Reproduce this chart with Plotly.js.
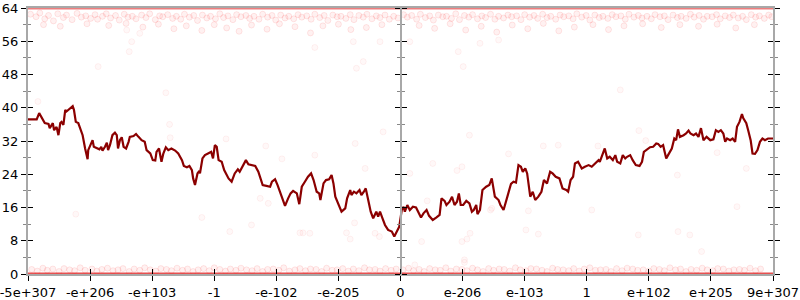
<!DOCTYPE html>
<html><head><meta charset="utf-8">
<script src="https://cdn.plot.ly/plotly-3.0.1.min.js"></script>
<style>html,body{margin:0;padding:0;background:#fff}#chart{width:800px;height:300px}</style>
</head><body><div id="chart"></div>
<script>
// tick positions (axis units) and labels
const tickPos = [0,1,2,3,4,5,6,7,8,9,10,11,12];
const tickLabels = ["-5e+307","-e+206","-e+103","-1","-e-102","-e-205","0","e-206","e-103","1","e+102","e+205","9e+307"];
const yTicks = [0,8,16,24,32,40,48,56,64];

// running line
const lineX = [0,0.14,0.18,0.22,0.27,0.33,0.35,0.40,0.42,0.46,0.49,0.52,0.54,0.57,0.60,0.62,0.68,0.72,0.74,0.77,0.81,0.84,0.88,0.92,0.96,0.97,1.01,1.04,1.06,1.11,1.15,1.18,1.20,1.24,1.27,1.29,1.32,1.36,1.40,1.43,1.45,1.48,1.51,1.54,1.58,1.62,1.64,1.70,1.74,1.78,1.83,1.88,1.91,1.97,2.01,2.05,2.07,2.11,2.15,2.18,2.22,2.26,2.31,2.37,2.42,2.48,2.51,2.56,2.60,2.64,2.66,2.69,2.73,2.76,2.77,2.81,2.85,2.90,2.95,2.98,3.01,3.04,3.07,3.12,3.16,3.23,3.28,3.33,3.38,3.41,3.46,3.51,3.55,3.60,3.66,3.71,3.74,3.78,3.84,3.90,3.93,3.98,4.02,4.06,4.14,4.19,4.23,4.27,4.33,4.37,4.41,4.46,4.51,4.56,4.60,4.65,4.69,4.71,4.76,4.80,4.85,4.89,4.92,4.95,5.00,5.05,5.11,5.14,5.19,5.21,5.25,5.29,5.34,5.37,5.41,5.44,5.48,5.52,5.56,5.61,5.64,5.67,5.71,5.75,5.80,5.86,5.90,5.94,5.98,6.02,6.05,6.07,6.11,6.15,6.20,6.25,6.29,6.33,6.37,6.42,6.46,6.52,6.58,6.63,6.66,6.71,6.74,6.79,6.83,6.87,6.91,6.94,6.97,7.01,7.06,7.11,7.15,7.18,7.22,7.24,7.28,7.32,7.38,7.43,7.47,7.49,7.52,7.58,7.61,7.66,7.70,7.74,7.78,7.82,7.86,7.90,7.94,7.97,8.01,8.04,8.09,8.13,8.17,8.22,8.27,8.31,8.36,8.41,8.45,8.50,8.56,8.61,8.67,8.70,8.74,8.78,8.81,8.86,8.92,8.97,9.03,9.08,9.13,9.19,9.21,9.26,9.29,9.33,9.37,9.42,9.46,9.49,9.54,9.58,9.62,9.65,9.70,9.74,9.79,9.85,9.89,9.92,9.97,10.02,10.07,10.12,10.15,10.19,10.23,10.28,10.31,10.37,10.41,10.44,10.47,10.50,10.56,10.60,10.64,10.67,10.72,10.76,10.80,10.84,10.88,10.93,10.99,11.04,11.08,11.12,11.16,11.20,11.23,11.26,11.31,11.35,11.39,11.42,11.46,11.50,11.52,11.57,11.60,11.64,11.67,11.71,11.75,11.79,11.83,11.87,11.92,12.00];
const lineY = [37.2,37.2,38.7,37.7,36.3,36.1,35.1,36.3,34.6,35.4,33.4,36.3,36.6,35.9,39.5,39.1,39.9,40.4,39.5,36.6,36.3,34.8,33.4,30.2,27.6,29.8,31.4,32.2,30.6,30.2,30.0,30.6,29.7,30.6,31.6,29.8,31.0,33.4,34.0,33.4,30.2,32.2,32.9,30.6,30.2,31.8,33.0,33.2,33.7,33.0,32.2,31.8,29.8,29.0,27.4,27.3,29.4,30.2,27.0,29.0,30.5,29.8,30.2,29.7,29.0,27.4,26.0,25.7,26.0,25.0,23.0,21.4,24.2,24.8,24.2,27.8,28.6,29.0,29.4,27.8,31.0,30.6,27.4,27.0,25.0,23.0,22.2,24.2,25.2,24.6,26.2,27.4,26.4,26.2,26.0,24.6,23.4,21.4,21.2,21.0,22.2,22.8,21.4,19.8,16.4,18.2,19.4,20.0,19.4,16.8,21.0,22.2,23.4,24.2,22.6,19.8,19.4,17.8,21.8,22.6,22.8,23.8,21.8,18.6,16.6,15.0,15.8,18.2,20.2,19.0,19.8,19.4,20.2,19.0,19.8,20.6,17.8,15.0,13.4,15.0,13.8,15.0,13.4,11.8,10.6,10.2,9.0,10.2,11.4,15.4,16.2,15.0,16.6,15.4,16.2,16.0,14.6,13.6,14.6,15.4,14.0,13.0,13.6,14.2,18.2,17.6,16.6,17.4,18.6,16.6,17.4,19.4,16.6,16.6,17.6,17.0,15.0,15.4,16.6,14.4,15.4,20.2,21.0,21.4,23.0,21.4,18.6,17.8,16.6,15.4,17.4,19.4,21.7,22.2,22.0,26.2,25.8,24.6,25.4,24.2,18.6,19.8,17.8,18.6,19.8,22.6,21.8,24.6,24.2,23.4,23.0,20.6,20.2,19.8,22.6,23.4,26.6,27.0,25.4,25.8,26.2,25.8,26.6,27.4,27.0,29.0,30.2,27.8,28.2,27.4,28.6,27.0,26.6,28.6,27.8,28.2,28.6,27.4,26.2,26.0,27.0,29.4,30.0,30.5,30.6,31.4,31.3,30.6,31.0,27.8,28.6,30.2,32.6,32.2,34.8,33.0,33.4,33.8,34.5,33.8,33.4,33.8,33.0,35.1,32.2,33.0,32.2,32.4,34.6,34.2,34.6,33.8,31.8,32.6,32.2,32.6,31.8,35.4,36.6,38.5,37.5,36.3,34.6,32.2,29.0,28.9,29.8,31.8,32.6,32.2,32.6,32.6];

// dense rows of points at 0 and 64
const edgeX = [0,12];
const topRowY = [64,64];
const bottomRowY = [0,0];

// band of points just below 64
const topBandX = [0.04,0.13,0.19,0.27,0.33,0.41,0.48,0.57,0.62,0.71,0.79,0.86,0.93,1.01,1.08,1.12,1.2,1.26,1.33,1.41,1.47,1.55,1.61,1.68,1.74,1.83,1.9,1.96,2.05,2.12,2.17,2.25,2.33,2.39,2.46,2.52,2.6,2.67,2.73,2.81,2.88,2.94,3.02,3.09,3.15,3.22,3.3,3.36,3.43,3.51,3.57,3.64,3.72,3.78,3.86,3.93,3.99,4.07,4.14,4.2,4.28,4.35,4.41,4.49,4.56,4.62,4.7,4.77,4.83,4.91,4.98,5.04,5.12,5.19,5.25,5.33,5.4,5.46,5.54,5.61,5.67,5.75,5.82,5.89,5.96,6.05,6.11,6.18,6.26,6.32,6.4,6.47,6.53,6.61,6.68,6.74,6.82,6.89,6.95,7.03,7.1,7.16,7.24,7.31,7.37,7.45,7.52,7.58,7.66,7.73,7.79,7.87,7.94,8.0,8.08,8.15,8.21,8.29,8.36,8.42,8.5,8.57,8.63,8.71,8.78,8.84,8.92,8.99,9.05,9.13,9.2,9.26,9.34,9.41,9.47,9.55,9.62,9.68,9.76,9.83,9.89,9.97,10.04,10.1,10.18,10.25,10.31,10.39,10.46,10.52,10.6,10.67,10.73,10.81,10.88,10.94,11.02,11.09,11.15,11.23,11.3,11.36,11.44,11.51,11.57,11.65,11.72,11.78,11.86,11.93,11.98,
  0.25,0.52,0.95,1.3,1.58,1.85,2.1,2.35,2.55,2.8,3.0,3.2,3.4,3.6,3.85,4.05,4.3,4.55,4.75,5.0,5.2,5.45,5.7,6.3,6.55,6.8,7.05,7.3,7.55,7.8,8.05,8.3,8.55,8.8,9.1,9.35,9.6,9.9,10.2,10.5,10.8,11.1,11.4,11.7];
const topBandY = [62.5,61.9,62.8,61.4,62.2,60.9,62.6,61.7,62.3,61.2,62.7,61.8,62.1,61.5,62.4,61.3,62.0,62.6,61.6,62.2,61.1,62.5,61.8,62.0,61.4,62.3,61.7,62.6,61.2,62.1,61.9,62.4,61.5,62.0,61.3,62.5,61.8,62.2,61.0,62.3,61.6,62.0,61.4,62.6,61.7,62.1,61.2,62.4,61.9,62.2,61.5,62.0,61.3,62.5,61.8,62.2,61.1,62.3,61.6,62.0,61.4,62.4,61.8,62.1,61.3,62.5,61.7,62.2,61.0,62.3,61.9,62.0,61.5,62.4,61.2,62.2,61.8,62.5,61.4,62.1,61.7,62.3,61.3,62.0,61.6,62.4,61.8,62.2,61.3,62.5,61.7,62.1,61.1,62.3,61.9,62.0,61.5,62.6,61.2,62.2,61.8,62.4,61.4,62.1,61.7,62.5,61.3,62.0,61.6,62.3,61.9,62.1,61.2,62.4,61.8,62.2,61.5,62.5,61.7,62.0,61.3,62.3,61.9,62.1,61.4,62.6,61.8,62.2,61.1,62.3,61.7,62.0,61.5,62.4,61.9,62.1,61.3,62.5,61.8,62.2,61.6,62.0,61.4,62.4,61.9,62.1,61.2,62.3,61.7,62.0,61.5,62.5,61.8,62.2,61.3,62.0,61.9,62.4,61.4,62.1,61.7,62.3,61.6,62.0,61.2,62.4,61.8,62.1,61.5,62.3,61.9,
  60.0,59.6,60.2,59.8,60.3,59.4,60.1,59.0,59.7,58.6,60.0,59.2,58.4,59.9,58.9,60.2,59.5,58.0,59.7,60.1,58.8,59.3,60.0,59.8,59.1,60.2,58.7,59.6,58.2,59.9,59.0,60.3,58.5,59.4,60.0,58.8,59.7,60.2,59.3,60.0,59.6,60.1,59.2,60.0];

// band of points just above 0
const bottomBandX = [0.06,0.15,0.24,0.31,0.4,0.5,0.58,0.67,0.75,0.84,0.92,1.03,1.11,1.19,1.28,1.37,1.45,1.53,1.63,1.71,1.8,1.88,1.97,2.06,2.14,2.23,2.31,2.4,2.49,2.57,2.66,2.74,2.83,2.92,3.0,3.09,3.18,3.26,3.35,3.43,3.52,3.61,3.69,3.78,3.86,3.95,4.04,4.12,4.21,4.3,4.38,4.47,4.55,4.64,4.73,4.81,4.9,4.98,5.07,5.16,5.24,5.33,5.42,5.5,5.59,5.67,5.76,5.85,5.93,6.04,6.13,6.21,6.3,6.38,6.47,6.56,6.64,6.73,6.81,6.9,6.99,7.07,7.16,7.24,7.33,7.42,7.5,7.59,7.67,7.76,7.85,7.93,8.02,8.1,8.19,8.28,8.36,8.45,8.53,8.62,8.71,8.79,8.88,8.96,9.05,9.14,9.22,9.31,9.39,9.48,9.57,9.65,9.74,9.82,9.91,10.0,10.08,10.17,10.25,10.34,10.43,10.51,10.6,10.68,10.77,10.86,10.94,11.03,11.11,11.2,11.29,11.37,11.46,11.54,11.63,11.72,11.8,11.89,11.97];
const bottomBandY = [1.1,0.7,1.4,0.9,1.2,0.6,1.3,1.0,0.8,1.5,0.9,1.2,0.7,1.1,1.4,0.8,1.0,1.3,0.6,1.2,0.9,1.5,1.0,0.7,1.3,1.1,0.8,1.4,0.9,1.2,0.6,1.0,1.3,0.8,1.5,1.1,0.7,1.2,0.9,1.4,1.0,0.8,1.3,0.6,1.1,1.2,0.9,1.5,0.7,1.0,1.3,0.8,1.2,1.1,0.6,1.4,0.9,1.0,1.3,0.7,1.2,0.8,1.5,1.0,1.1,0.7,1.3,0.9,1.2,1.0,1.4,0.8,1.1,0.6,1.3,1.0,0.9,1.5,0.7,1.2,1.1,0.8,1.4,1.0,0.6,1.3,0.9,1.2,1.1,0.7,1.5,1.0,0.8,1.3,1.2,0.9,0.6,1.4,1.1,1.0,0.8,1.3,0.7,1.2,1.5,0.9,1.0,1.1,0.6,1.3,0.8,1.4,1.2,0.9,1.0,0.7,1.3,1.1,0.8,1.5,1.0,1.2,0.6,1.1,0.9,1.4,1.0,0.8,1.3,1.2,0.7,1.0,1.1,0.9,1.4,0.8,1.2];

// isolated points in the middle of the plot
const midX = [1.13,1.67,1.63,2.22,1.59,1.80,0.16,2.28,2.29,3.19,3.83,4.62,5.27,5.72,4.09,5.43,3.74,3.87,2.80,3.25,3.60,4.38,5.13,5.59,5.26,4.43,4.54,5.19,5.66,6.23,6.99,7.07,7.03,6.34,7.12,7.47,0.77,7.11,7.74,8.30,8.54,9.18,6.52,6.99,6.91,6.15,6.43,7.45,8.06,9.08,8.02,8.22,11.42,9.83,10.47,10.66,10.85,9.84,9.95,11.10,11.57,10.46,9.54,4.62,5.40,5.29,7.01,6.93,7.28,7.58,5.24,5.67,6.15,7.03];
const midY = [49.9,55.9,53.5,43.6,58.7,57.9,41.5,36.0,32.8,32.5,30.8,28.6,31.4,34.2,27.7,25.4,18.2,17.0,13.6,10.2,11.8,9.9,9.9,9.8,12.3,9.9,9.8,8.4,9.0,2.2,7.8,8.4,3.4,7.8,9.8,15.8,14.4,33.4,28.9,30.8,31.0,30.8,26.6,25.8,24.9,24.2,17.6,15.4,15.2,15.4,10.6,9.6,16.2,9.4,10.2,9.4,5.4,34.5,32.1,29.2,25.4,23.8,44.3,54.5,51.1,49.5,49.9,53.5,55.5,56.3,55.9,55.9,55.9,2.8];

const bandMarker = {size: 6, color: 'rgba(255,80,80,0.08)', line: {color: 'rgba(240,0,0,0.09)', width: 1}};
const midMarker = {size: 6, color: 'rgba(255,80,80,0.04)', line: {color: 'rgba(240,0,0,0.05)', width: 1}};
const labelFont = {family: 'DejaVu Sans', size: 13, color: '#000'};
const axisGray = '#a8a8a8';

const traces = [
  {x: edgeX, y: bottomRowY, type: 'scatter', mode: 'lines', line: {color: 'rgba(228,50,50,0.85)', width: 3}, hoverinfo: 'skip', cliponaxis: false},
  {x: edgeX, y: topRowY, type: 'scatter', mode: 'lines', line: {color: 'rgba(225,40,40,0.6)', width: 3}, hoverinfo: 'skip', cliponaxis: false},
  {x: topBandX, y: topBandY, type: 'scatter', mode: 'markers', marker: bandMarker, hoverinfo: 'skip'},
  {x: bottomBandX, y: bottomBandY, type: 'scatter', mode: 'markers', marker: bandMarker, hoverinfo: 'skip'},
  {x: midX, y: midY, type: 'scatter', mode: 'markers', marker: midMarker, hoverinfo: 'skip'},
  {x: lineX, y: lineY, type: 'scatter', mode: 'lines', line: {color: 'rgb(139,0,0)', width: 2.2}, hoverinfo: 'skip'},
  {x: [], y: [], xaxis: 'x2', yaxis: 'y', type: 'scatter'},
  {x: [], y: [], xaxis: 'x', yaxis: 'y2', type: 'scatter'},
  {x: [], y: [], xaxis: 'x', yaxis: 'y3', type: 'scatter'},
  {x: [], y: [], xaxis: 'x', yaxis: 'y4', type: 'scatter'}
];

const minorY = {dtick: 4, tick0: 0, ticklen: 3, tickcolor: '#888', tickwidth: 1, ticks: 'outside', showgrid: false};
const minorYin = {dtick: 4, tick0: 0, ticklen: 3, tickcolor: '#888', tickwidth: 1, ticks: 'inside', showgrid: false};

const layout = {
  width: 800, height: 300,
  margin: {l: 28, r: 27, t: 8, b: 26},
  paper_bgcolor: '#fff', plot_bgcolor: '#fff',
  showlegend: false,
  font: labelFont,
  xaxis: {range: [0, 12], tickmode: 'array', tickvals: tickPos, ticktext: tickLabels, ticklabeloverflow: 'allow',
    ticks: 'outside', ticklen: 5, tickwidth: 1, tickcolor: '#000', showgrid: false, zeroline: false,
    showline: true, linecolor: axisGray, linewidth: 2, mirror: true, tickfont: labelFont, fixedrange: true},
  xaxis2: {overlaying: 'x', range: [0, 12], tickmode: 'array', tickvals: tickPos, ticks: 'inside', ticklen: 5,
    tickwidth: 1, tickcolor: '#000', showticklabels: false, showgrid: false, zeroline: false, showline: false, anchor: 'y', side: 'bottom'},
  yaxis: {range: [0, 64], tickmode: 'array', tickvals: yTicks, ticks: 'outside', ticklen: 5, tickwidth: 1, tickcolor: '#000',
    showgrid: false, zeroline: false, showline: true, linecolor: axisGray, linewidth: 2, mirror: 'ticks', tickfont: labelFont,
    ticklabeloverflow: 'allow', minor: minorY},
  yaxis2: {overlaying: 'y', range: [0, 64], tickmode: 'array', tickvals: yTicks, ticks: 'inside', ticklen: 5, tickwidth: 1, tickcolor: '#000',
    showgrid: false, zeroline: false, showline: false, mirror: 'ticks', showticklabels: false, minor: minorYin},
  yaxis3: {overlaying: 'y', anchor: 'free', position: 0.5, side: 'left', range: [0, 64], tickmode: 'array', tickvals: yTicks,
    ticks: 'outside', ticklen: 5, tickwidth: 1, tickcolor: '#000', showgrid: false, zeroline: false, showline: true,
    linecolor: axisGray, linewidth: 2, showticklabels: false, minor: minorY},
  yaxis4: {overlaying: 'y', anchor: 'free', position: 0.5, side: 'right', range: [0, 64], tickmode: 'array', tickvals: yTicks,
    ticks: 'outside', ticklen: 5, tickwidth: 1, tickcolor: '#000', showgrid: false, zeroline: false, showline: false,
    showticklabels: false, minor: minorY}
};

Plotly.newPlot('chart', traces, layout, {staticPlot: true, displayModeBar: false});
</script>
</body></html>
